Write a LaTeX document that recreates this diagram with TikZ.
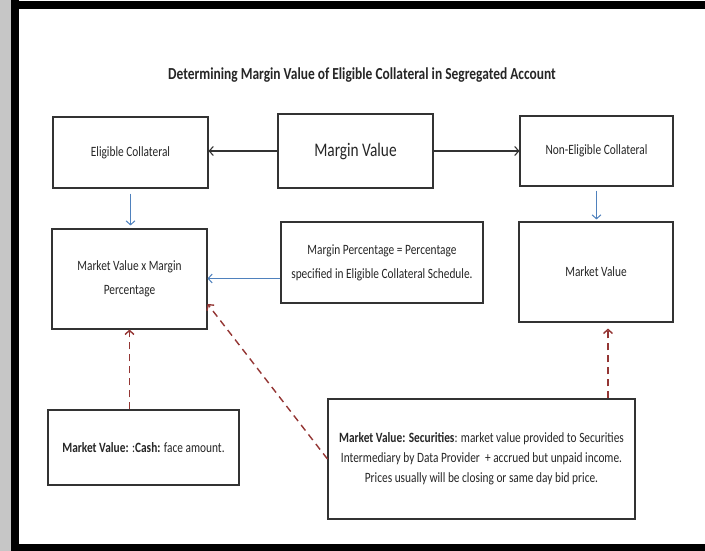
\documentclass[tikz,border=0pt]{standalone}
\usepackage{fontspec}
\setmainfont{Carlito}[FakeStretch=0.8]
\usetikzlibrary{arrows.meta}
\definecolor{arrowblue}{HTML}{4F81BD}
\definecolor{dashred}{HTML}{943634}
\tikzset{
    flowbox/.style={
        draw=black!80,
        line width=1.1pt,
        fill=white,
        inner sep=0pt,
        align=center,
        text=black!85,
        font=\fontsize{14.2}{24}\selectfont
    },
    blackarrow/.style={
        -{Straight Barb[length=4pt,width=9pt]},
        line width=1.1pt,
        black!80
    },
    bluearrow/.style={
        -{Straight Barb[length=4pt,width=9pt]},
        line width=1pt,
        arrowblue
    },
    reddash/.style={
        -{Straight Barb[length=4pt,width=9pt]},
        line width=1.4pt,
        dash pattern=on 7pt off 5pt,
        dashred
    }
}

\begin{document}
\begin{tikzpicture}[x=1pt,y=-1pt]
    \useasboundingbox (0,0) rectangle (705,551);
    % frame
    \fill[white] (0,0) rectangle (705,551);
    \fill[gray!45] (0,0) rectangle (11,551);
    \fill[black] (11,0) rectangle (19,551);
    \fill[black] (11,1) rectangle (705,9);
    \fill[black] (11,544) rectangle (705,551);

    \node[font=\bfseries\fontsize{16.8}{18}\selectfont, text=black!85] (title) at (362,75)
        {Determining Margin Value of Eligible Collateral in Segregated Account};

    % first row
    \node[flowbox, minimum width=155pt, minimum height=71pt] (elig) at (130.5,152.5) {Eligible Collateral};
    \node[flowbox, minimum width=155pt, minimum height=74pt, font=\fontsize{19.2}{22}\selectfont] (margin) at (355.5,151) {Margin Value};
    \node[flowbox, minimum width=153pt, minimum height=70pt] (nonelig) at (596.5,151) {Non-Eligible Collateral};

    % second row
    \node[flowbox, minimum width=155pt, minimum height=100pt] (mvmp) at (129.5,279) {Market Value x Margin\\Percentage};
    \node[flowbox, minimum width=202pt, minimum height=81pt] (mpct) at (382,262.5) {Margin Percentage = Percentage\\specified in Eligible Collateral Schedule.};
    \node[flowbox, minimum width=154pt, minimum height=100pt] (mv) at (596,272) {Market Value};

    % bottom row
    \node[flowbox, minimum width=191pt, minimum height=75pt] (cash) at (143.5,447.5) {\textbf{Market Value:} :\textbf{Cash:} face amount.};
    \node[flowbox, minimum width=307pt, minimum height=120pt, font=\fontsize{14.2}{20}\selectfont] (sec) at (481.5,459)
        {\textbf{Market Value: Securities}: market value provided to Securities\\
         Intermediary by Data Provider\ \ + accrued but unpaid income.\\
         Prices usually will be closing or same day bid price.};

    % connectors
    \draw[blackarrow] (margin.west) -- (margin.west -| elig.east);
    \draw[blackarrow] (margin.east) -- (margin.east -| nonelig.west);
    \draw[bluearrow, shorten <=5pt, shorten >=3pt] (elig.south) -- (elig.south |- mvmp.north);
    \draw[bluearrow, shorten <=4pt, shorten >=2pt] (nonelig.south) -- (nonelig.south |- mv.north);
    \draw[bluearrow] ([yshift=-16pt]mpct.west) -- ([yshift=-16pt]mpct.west -| mvmp.east);
    \draw[reddash] (mvmp.south |- cash.north) -- (mvmp.south);
    \draw[reddash] (sec.west) -- ([yshift=-25pt]mvmp.east);
    \draw[reddash, shorten >=6pt] ([xshift=12pt]mv.south |- sec.north) -- ([xshift=12pt]mv.south);
\end{tikzpicture}
\end{document}
